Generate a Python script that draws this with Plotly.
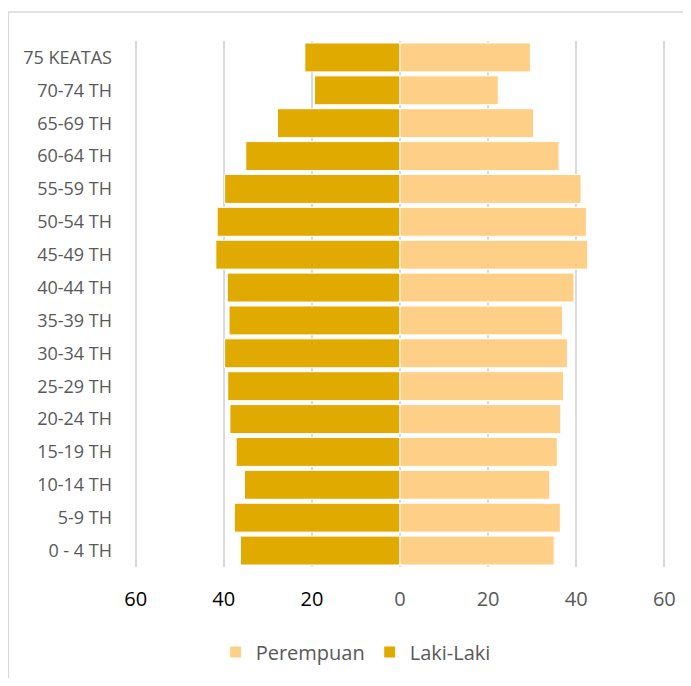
import plotly.graph_objects as go

categories = ["0 - 4 TH", "5-9 TH", "10-14 TH", "15-19 TH", "20-24 TH", "25-29 TH",
              "30-34 TH", "35-39 TH", "40-44 TH", "45-49 TH", "50-54 TH", "55-59 TH",
              "60-64 TH", "65-69 TH", "70-74 TH", "75 KEATAS"]
laki_laki = [36.2, 37.6, 35.3, 37.2, 38.6, 39.1, 39.8, 38.8, 39.2, 41.8, 41.5, 39.8,
             35.0, 27.8, 19.4, 21.6]
perempuan = [35.0, 36.4, 34.0, 35.7, 36.5, 37.1, 38.0, 36.9, 39.5, 42.6, 42.3, 41.1,
             36.1, 30.3, 22.3, 29.6]
left_ticks = [-60, -40, -20]
left_labels = ["60", "40", "20"]
right_ticks = [0, 20, 40, 60]
right_labels = ["0", "20", "40", "60"]

# page body has an 8px margin; compensate so the plot lands where the reference has it
OFF = 8
W, H = 675, 670
PAD_U = 0.6                      # extra axis units beyond +-60 so edge gridlines are drawn
ppu = (664.7 - 136) / 120.0      # pixels per unit
L = 136 - OFF - PAD_U * ppu
R = W - (664.7 - OFF + PAD_U * ppu)
T = 41 - OFF
B = H - (567 - OFF)
pw, ph = W - L - R, H - T - B

fig = go.Figure()
fig.add_trace(go.Bar(
    y=categories, x=perempuan, orientation="h", name="Perempuan",
    marker=dict(color="#FED087", line=dict(color="white", width=1)),
    xaxis="x2", yaxis="y", width=0.88,
))
fig.add_trace(go.Bar(
    y=categories, x=[-v for v in laki_laki], orientation="h", name="Laki-Laki",
    marker=dict(color="#E1AA00", line=dict(color="white", width=1)),
    xaxis="x", yaxis="y", width=0.88,
))

font = "Open Sans, sans-serif"
rng = [-60 - PAD_U, 60 + PAD_U]
fig.update_layout(
    width=W, height=H,
    margin=dict(l=L, r=R, t=T, b=B, pad=0, autoexpand=False),
    paper_bgcolor="white", plot_bgcolor="white",
    font=dict(family=font, color="#595959"),
    barmode="overlay",
    showlegend=True,
    legend=dict(orientation="h", x=(356 - OFF - L) / pw, xanchor="center",
                y=-(652 - 567) / ph, yanchor="middle",
                font=dict(size=20, color="#595959", family=font),
                traceorder="normal", itemwidth=30),
    xaxis=dict(range=rng, tickmode="array", tickvals=left_ticks, ticktext=left_labels,
               showgrid=True, gridcolor="#D9D9D9", gridwidth=1.5, zeroline=False,
               showline=False, tickfont=dict(size=20, color="#000000", family=font),
               ticklabelstandoff=18, fixedrange=True, automargin=False),
    xaxis2=dict(range=rng, overlaying="x", side="bottom", tickmode="array",
                tickvals=right_ticks, ticktext=right_labels,
                showgrid=True, gridcolor="#D9D9D9", gridwidth=1.5, zeroline=False,
                showline=False, tickfont=dict(size=20, color="#595959", family=font),
                ticklabelstandoff=18, fixedrange=True, automargin=False),
    yaxis=dict(type="category", categoryorder="array", categoryarray=categories,
               showgrid=False, zeroline=False, showline=False,
               tickfont=dict(size=18, color="#595959", family=font),
               ticklabelstandoff=20, fixedrange=True, automargin=False),
    shapes=[dict(type="rect", xref="paper", yref="paper",
                 x0=(0.75 - L) / pw, x1=(720 - L) / pw,
                 y0=(T + ph - 720) / ph, y1=(T + ph - (12 - OFF)) / ph,
                 line=dict(color="#D9D9D9", width=1.5), fillcolor="rgba(0,0,0,0)",
                 layer="below")],
)

fig.write_html("out.html")
